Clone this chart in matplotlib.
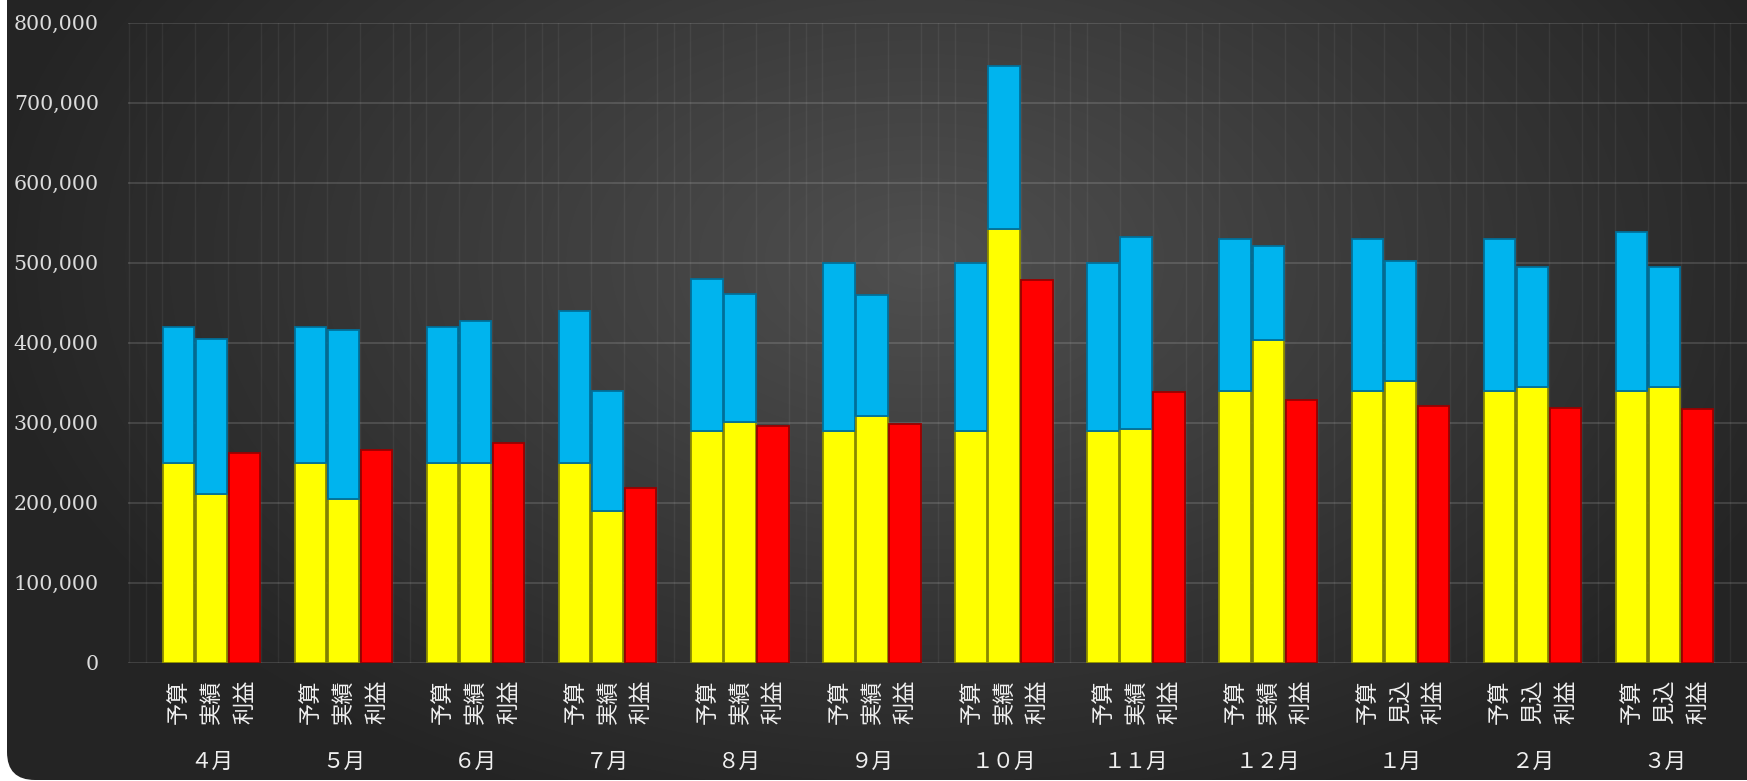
import numpy as np
import matplotlib
matplotlib.use("Agg")
import matplotlib.pyplot as plt
from matplotlib.patches import FancyBboxPatch
from matplotlib.ticker import FuncFormatter

# data (yen)
months = ["４月", "５月", "６月", "７月", "８月", "９月", "１０月", "１１月", "１２月", "１月", "２月", "３月"]
second_names = ["実績"] * 9 + ["見込"] * 3
budget_base = [250000, 250000, 250000, 250000, 290000, 290000, 290000, 290000, 340000, 340000, 340000, 340000]
budget_total = [420000, 420000, 420000, 440000, 480000, 500000, 500000, 500000, 530000, 530000, 530000, 538000]
actual_base = [211000, 204000, 250000, 190000, 301000, 308000, 542000, 292000, 403000, 352000, 344000, 345000]
actual_total = [405000, 415000, 427000, 340000, 461000, 460000, 745000, 532000, 521000, 502000, 494000, 494000]
profit = [262000, 266000, 275000, 218000, 296000, 298000, 478000, 338000, 328000, 321000, 318000, 317000]

W, H = 1747, 781
fig = plt.figure(figsize=(W / 100, H / 100), dpi=100)
fig.patch.set_facecolor("white")

# dark rounded background with soft radial light
bg = fig.add_axes([0, 0, 1, 1], zorder=-5)
bg.set_axis_off()
yy, xx = np.mgrid[0:H, 0:W]
d = np.sqrt(((xx - 920) / 900.0) ** 2 + ((yy - 260) / 560.0) ** 2)
shade = np.clip(0.31 - 0.16 * d, 0.145, 0.31)
img = np.dstack([shade, shade, shade])
im = bg.imshow(img, extent=(0, W, H, 0), aspect="auto", interpolation="bilinear")
bg.set_xlim(0, W)
bg.set_ylim(H, 0)
clip = FancyBboxPatch((7, -80), W + 80, 80 + 780, boxstyle="round,pad=0,rounding_size=28",
                      transform=bg.transData, facecolor="none", edgecolor="none")
bg.add_patch(clip)
im.set_clip_path(clip)

# main plot
x_left = 128
ax = fig.add_axes([x_left / W, 118.5 / H, 1 - x_left / W, 640 / H])
ax.set_facecolor("none")

n = len(months)
pos = np.arange(n) * 4
bw = 0.95
bb = np.array(budget_base)
bt = np.array(budget_total)
ab = np.array(actual_base)
at = np.array(actual_total)

yel, yel_e = "#ffff00", "#8a8a00"
blu, blu_e = "#00b4ee", "#00709a"
red, red_e = "#ff0000", "#9a0000"

ax.bar(pos + 0.5, bb, bw, color=yel, edgecolor=yel_e, linewidth=1.3, zorder=3)
ax.bar(pos + 0.5, bt - bb, bw, bottom=bb, color=blu, edgecolor=blu_e, linewidth=1.3, zorder=3)
ax.bar(pos + 1.5, ab, bw, color=yel, edgecolor=yel_e, linewidth=1.3, zorder=3)
ax.bar(pos + 1.5, at - ab, bw, bottom=ab, color=blu, edgecolor=blu_e, linewidth=1.3, zorder=3)
ax.bar(pos + 2.5, profit, bw, color=red, edgecolor=red_e, linewidth=1.3, zorder=3)

ax.set_xlim(-1.03, -1.03 + (W - x_left) / 33.04)
ax.set_ylim(0, 800000)
ax.set_yticks(np.arange(0, 800001, 100000))
ax.yaxis.set_major_formatter(FuncFormatter(lambda v, p: f"{int(v):,}"))
for lab in ax.get_yticklabels():
    lab.set_family("DejaVu Serif")
ax.tick_params(axis="y", length=0, pad=21, labelsize=14.8, labelcolor="#dcdcdc")

# x tick labels: vertical item names
ticks = []
labels = []
for i in range(n):
    ticks += [pos[i] + 0.5, pos[i] + 1.5, pos[i] + 2.5]
    labels += ["予算", second_names[i], "利益"]
ax.set_xticks(ticks)
ax.set_xticklabels(labels, rotation=90, family=["Noto Sans CJK JP", "DejaVu Sans"],
                   fontsize=16, color="#f0f0f0", va="top", ha="center")
ax.tick_params(axis="x", length=0, pad=12)

ax.set_xticks(np.arange(-1, 48.01, 0.5), minor=True)
ax.tick_params(axis="x", which="minor", length=0)
ax.grid(axis="y", which="major", color="#ffffff", alpha=0.13, linewidth=1.5, zorder=0)
ax.grid(axis="x", which="minor", color="#ffffff", alpha=0.06, linewidth=1.0, zorder=0)
ax.grid(axis="x", which="major", visible=False)
for s in ax.spines.values():
    s.set_visible(False)

for i in range(n):
    ax.text(pos[i] + 1.5, -0.1555, months[i], transform=ax.get_xaxis_transform(),
            ha="center", va="center", fontsize=15.5, color="#f0f0f0",
            family=["Noto Sans CJK JP", "DejaVu Sans"])

fig.savefig("out.png", dpi=100, facecolor=fig.get_facecolor())
